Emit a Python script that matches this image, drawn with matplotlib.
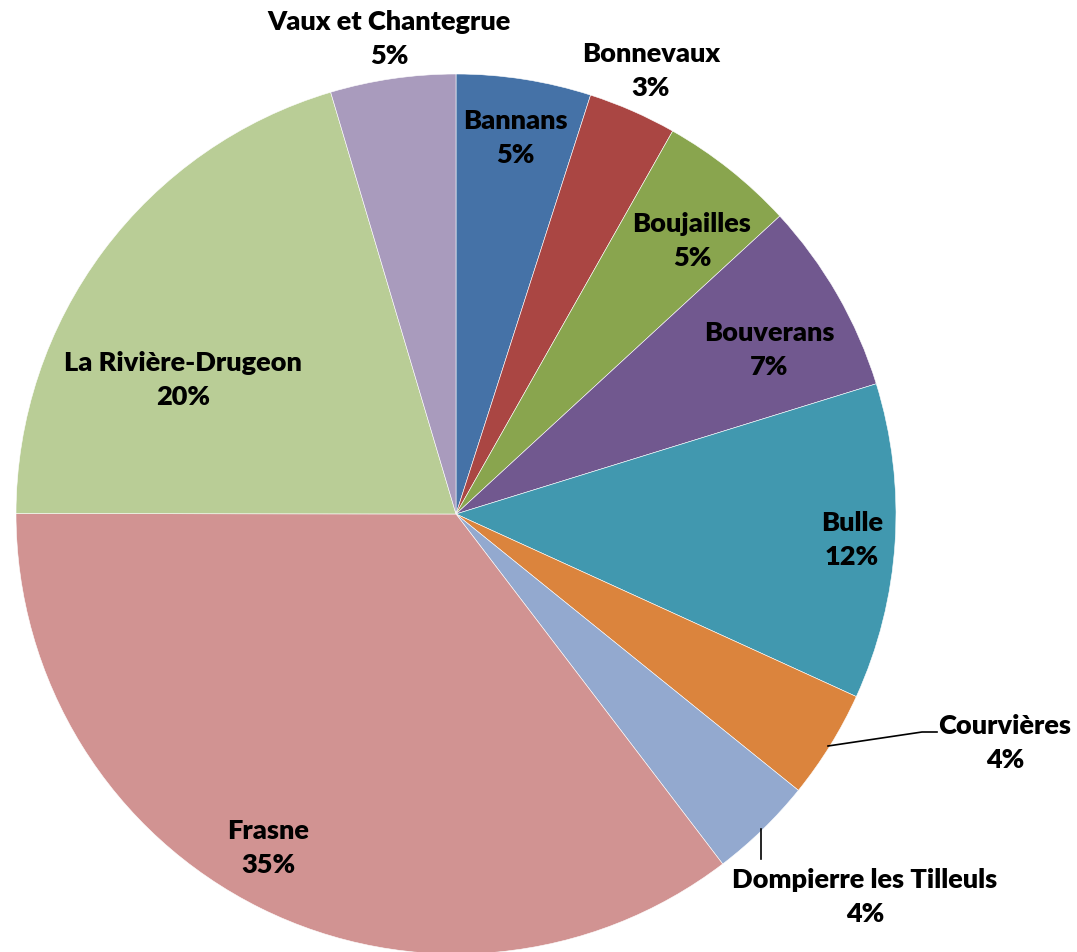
import numpy as np
import matplotlib.pyplot as plt

plt.rcParams['font.family'] = ['Lato', 'DejaVu Sans']

communes = ['Bannans', 'Bonnevaux', 'Boujailles', 'Bouverans', 'Bulle',
            'Courvières', 'Dompierre les Tilleuls', 'Frasne',
            'La Rivière-Drugeon', 'Vaux et Chantegrue']
shares = [4.95, 3.25, 4.97, 7.06, 11.6, 4.0, 3.83, 35.4, 20.4, 4.6]

colors = ['#4572A7', '#AA4643', '#89A54E', '#71588F', '#4198AF',
          '#DB843D', '#93A9CF', '#D19392', '#B9CD96', '#A99BBD']

# label centres in pixel coords (x, y from top)
label_pos = [(515, 138), (651, 71), (692, 241), (769, 350), (852, 540),
             (1005, 743), (865, 897), (268, 848), (183, 380), (389, 39)]

W, H = 1077, 953
fig = plt.figure(figsize=(W / 100, H / 100), dpi=100)
ax = fig.add_axes([0, 0, 1, 1])

cx, cy, R = 456, H - 515, 440
ax.pie(shares, colors=colors, startangle=90, counterclock=False,
       center=(cx, cy), radius=R, frame=True,
       wedgeprops=dict(edgecolor='white', linewidth=0.4))
ax.set_xlim(0, W)
ax.set_ylim(0, H)
ax.set_aspect('equal')
ax.axis('off')

for name, val, (lx, ly) in zip(communes, shares, label_pos):
    ax.text(lx, H - ly, f'{name}\n{val:.0f}%', ha='center', va='center',
            fontsize=19.5, fontweight='heavy', linespacing=1.54, color='black')

# leader lines
ax.plot([828, 922, 937], [H - 747, H - 733, H - 733], color='black', lw=1.2)
ax.plot([761, 761], [H - 830, H - 860], color='black', lw=1.2)

fig.savefig('out.png', dpi=100)
